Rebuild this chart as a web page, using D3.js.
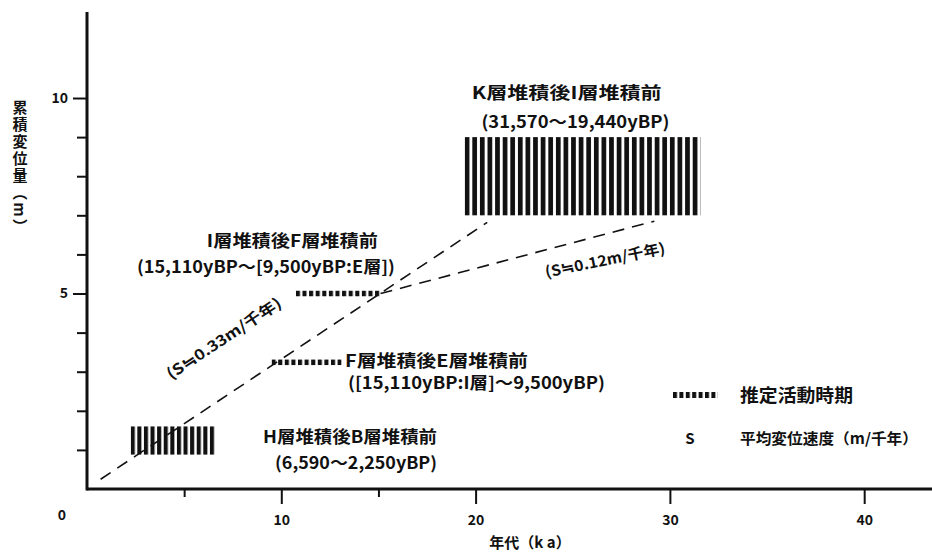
<!DOCTYPE html>
<html>
<head>
<meta charset="utf-8">
<script src="https://cdn.jsdelivr.net/npm/d3@7"></script>
<style>
  body { margin: 0; background: #fff; }
  text { font-family: "Noto Sans CJK JP", "Noto Sans", sans-serif; font-weight: 700; fill: #111; }
</style>
</head>
<body>
<script>
// x: 年代 (ka), y: 累積変位量 (m)
var xTicks = [5, 10, 15, 20, 30, 40];
var xLabels = [10, 20, 30, 40];
var yTicks = [1, 2, 3, 4, 5, 6, 7, 8, 9, 10];
var yLabels = [5, 10];

// 推定活動時期 (ka range, m range)
var periods = [
  { name: "K", x0: 19.44, x1: 31.57, y0: 7.0, y1: 9.0, step: 7.6 },
  { name: "I", x0: 10.75, x1: 15.11, y0: 4.93, y1: 5.07, step: 6.6 },
  { name: "F", x0: 9.5, x1: 13.1, y0: 3.17, y1: 3.31, step: 6.6 },
  { name: "H", x0: 2.25, x1: 6.59, y0: 0.88, y1: 1.6, step: 6.6 }
];

// dashed trend lines
var trends = [
  [[0.7, 0.25], [20.6, 6.82]],
  [[15.11, 5.0], [29.2, 6.85]]
];

// labels: [text, x(ka), baseline y(m), width px]
var labels = [
  ["K層堆積後I層堆積前", 19.8, 9.98, 190],
  ["(31,570～19,440yBP)", 20.3, 9.23, 188],
  ["I層堆積後F層堆積前", 6.17, 6.2, 171],
  ["(15,110yBP～[9,500yBP:E層])", 2.57, 5.52, 258],
  ["F層堆積後E層堆積前", 13.28, 3.13, 183],
  ["([15,110yBP:I層]～9,500yBP)", 13.43, 2.55, 257],
  ["H層堆積後B層堆積前", 9.06, 1.18, 174],
  ["(6,590～2,250yBP)", 9.68, 0.51, 162]
];

var slopes = [
  { text: "(S≒0.33m/千年)", x: 7.05, y: 3.85, angle: -33.5, w: 134 },
  { text: "(S≒0.12m/千年)", x: 26.66, y: 5.85, angle: -11.5, w: 122 }
];

var width = 932, height = 552;

var svg = d3.select("body").append("svg")
  .attr("width", width)
  .attr("height", height);

var x = d3.scaleLinear().domain([0, 43.49]).range([87, 932]);
var y = d3.scaleLinear().domain([0, 12.2]).range([489, 12]);

var defs = svg.append("defs");
periods.forEach(function(p) {
  var pat = defs.append("pattern")
    .attr("id", "hatch" + p.name)
    .attr("patternUnits", "userSpaceOnUse")
    .attr("x", x(p.x0))
    .attr("width", p.step)
    .attr("height", 10);
  pat.append("rect")
    .attr("width", p.step * 0.62)
    .attr("height", 10)
    .attr("fill", "#111");
});
var legPat = defs.append("pattern")
  .attr("id", "hatchLeg")
  .attr("patternUnits", "userSpaceOnUse")
  .attr("x", 673)
  .attr("width", 6.4)
  .attr("height", 10);
legPat.append("rect").attr("width", 4).attr("height", 10).attr("fill", "#111");

// axes
var xAxis = svg.append("g")
  .attr("transform", "translate(0," + y(0) + ")")
  .call(d3.axisBottom(x)
    .tickValues(xTicks)
    .tickSize(14)
    .tickSizeOuter(0)
    .tickPadding(12)
    .tickFormat(function(d) { return xLabels.indexOf(d) >= 0 ? d : ""; }));
xAxis.select(".domain").remove();
xAxis.selectAll(".tick line")
  .attr("stroke", "#111")
  .attr("stroke-width", 2)
  .attr("y2", function(d) { return xLabels.indexOf(d) >= 0 ? 15 : 8; });
xAxis.selectAll(".tick text")
  .style("font-size", "14px")
  .style("font-family", "'Noto Sans CJK JP'")
  .style("font-weight", 700);

var yAxis = svg.append("g")
  .attr("transform", "translate(" + x(0) + ",0)")
  .call(d3.axisLeft(y)
    .tickValues(yTicks)
    .tickSize(13)
    .tickSizeOuter(0)
    .tickPadding(6)
    .tickFormat(function(d) { return yLabels.indexOf(d) >= 0 ? d : ""; }));
yAxis.select(".domain").remove();
yAxis.selectAll(".tick line")
  .attr("stroke", "#111")
  .attr("stroke-width", 2)
  .attr("x2", function(d) { return yLabels.indexOf(d) >= 0 ? -14 : -10; });
yAxis.selectAll(".tick text")
  .style("font-size", "14px")
  .style("font-family", "'Noto Sans CJK JP'")
  .style("font-weight", 700);

svg.append("line")
  .attr("x1", x(0)).attr("x2", width)
  .attr("y1", y(0)).attr("y2", y(0))
  .attr("stroke", "#111").attr("stroke-width", 3);
svg.append("line")
  .attr("x1", x(0)).attr("x2", x(0))
  .attr("y1", y(12.2)).attr("y2", y(0) + 1.5)
  .attr("stroke", "#111").attr("stroke-width", 3);

svg.append("text")
  .attr("x", 62).attr("y", y(0) + 31)
  .attr("text-anchor", "middle")
  .style("font-size", "14px")
  .text("0");

// axis titles
svg.append("text")
  .attr("x", 530).attr("y", 548)
  .attr("text-anchor", "middle")
  .style("font-size", "15px")
  .text("年代（k a）");

svg.append("text")
  .attr("x", 20).attr("y", 168)
  .attr("text-anchor", "middle")
  .style("writing-mode", "vertical-rl")
  .style("font-size", "15px")
  .style("letter-spacing", "2px")
  .text("累積変位量（m）");

// dashed lines
var line = d3.line()
  .x(function(d) { return x(d[0]); })
  .y(function(d) { return y(d[1]); });

svg.append("g").selectAll("path")
  .data(trends)
  .enter().append("path")
    .attr("d", line)
    .attr("fill", "none")
    .attr("stroke", "#111")
    .attr("stroke-width", 1.6)
    .attr("stroke-dasharray", "12,8");

// hatched activity periods
svg.append("g").selectAll("rect")
  .data(periods)
  .enter().append("rect")
    .attr("x", function(d) { return x(d.x0); })
    .attr("width", function(d) { return x(d.x1) - x(d.x0); })
    .attr("y", function(d) { return y(d.y1); })
    .attr("height", function(d) { return y(d.y0) - y(d.y1); })
    .attr("fill", function(d) { return "url(#hatch" + d.name + ")"; });

// period labels
svg.append("g").selectAll("text")
  .data(labels)
  .enter().append("text")
    .attr("x", function(d) { return x(d[1]); })
    .attr("y", function(d) { return y(d[2]); })
    .attr("textLength", function(d) { return d[3]; })
    .attr("lengthAdjust", "spacingAndGlyphs")
    .style("font-size", "17px")
    .text(function(d) { return d[0]; });

svg.append("g").selectAll("text")
  .data(slopes)
  .enter().append("text")
    .attr("transform", function(d) { return "translate(" + x(d.x) + "," + y(d.y) + ") rotate(" + d.angle + ")"; })
    .attr("text-anchor", "middle")
    .attr("dy", "0.35em")
    .attr("textLength", function(d) { return d.w; })
    .attr("lengthAdjust", "spacingAndGlyphs")
    .style("font-size", "15px")
    .text(function(d) { return d.text; });

// legend
svg.append("rect")
  .attr("x", 673).attr("y", 392)
  .attr("width", 45).attr("height", 6)
  .attr("fill", "url(#hatchLeg)");
svg.append("text")
  .attr("x", 740).attr("y", 402)
  .attr("textLength", 113)
  .attr("lengthAdjust", "spacingAndGlyphs")
  .style("font-size", "18px")
  .text("推定活動時期");
svg.append("text")
  .attr("x", 690).attr("y", 444)
  .attr("text-anchor", "middle")
  .style("font-size", "15px")
  .text("S");
svg.append("text")
  .attr("x", 740).attr("y", 444)
  .attr("textLength", 178)
  .attr("lengthAdjust", "spacingAndGlyphs")
  .style("font-size", "15px")
  .text("平均変位速度（m/千年）");
</script>
</body>
</html>
